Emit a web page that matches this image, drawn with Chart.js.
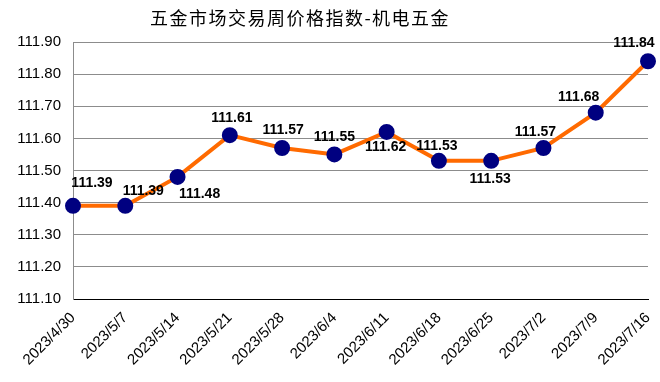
<!DOCTYPE html>
<html>
<head>
<meta charset="utf-8">
<script src="https://cdn.jsdelivr.net/npm/chart.js@4/dist/chart.umd.min.js"></script>
<style>
  html, body { margin: 0; padding: 0; background: #fff; }
  #wrap { width: 660px; height: 382px; position: relative; }
</style>
</head>
<body>
<div id="wrap"><canvas id="priceChart"></canvas></div>
<script>
// --- chart data ---
const weeks = ['2023/4/30', '2023/5/7', '2023/5/14', '2023/5/21', '2023/5/28', '2023/6/4',
               '2023/6/11', '2023/6/18', '2023/6/25', '2023/7/2', '2023/7/9', '2023/7/16'];
const indexValues = [111.39, 111.39, 111.48, 111.61, 111.57, 111.55, 111.62, 111.53, 111.53, 111.57, 111.68, 111.84];
const yTicks = [111.10, 111.20, 111.30, 111.40, 111.50, 111.60, 111.70, 111.80, 111.90];
const chartTitle = '五金市场交易周价格指数-机电五金';

// where each value label sits relative to its point (px)
const labelOffsets = [[19, -23], [18, -15], [22, 17], [2, -17], [1, -18], [0, -17],
                      [-1, 15], [-2, -15], [-1, 18], [-8, -16], [-17, -16], [-14, -18]];

// draws the numbers next to each point
const valueLabels = {
    id: 'valueLabels',
    afterDatasetsDraw(chart) {
        const ctx = chart.ctx;
        const meta = chart.getDatasetMeta(0);
        ctx.save();
        ctx.font = 'bold 14px "Liberation Sans", Arial, sans-serif';
        ctx.fillStyle = '#000';
        ctx.textAlign = 'center';
        ctx.textBaseline = 'middle';
        meta.data.forEach((pt, i) => {
            const off = labelOffsets[i] || [0, -16];
            ctx.fillText(indexValues[i].toFixed(2), pt.x + off[0], pt.y + off[1]);
        });
        ctx.restore();
    }
};

// title drawn centred over the chart
const titleText = {
    id: 'titleText',
    afterDraw(chart) {
        const ctx = chart.ctx;
        ctx.save();
        ctx.font = '18px "Noto Sans CJK SC", sans-serif';
        ctx.letterSpacing = '1.5px';
        ctx.fillStyle = '#000';
        ctx.textAlign = 'center';
        ctx.textBaseline = 'middle';
        ctx.fillText(chartTitle, 300, 18);
        ctx.restore();
    }
};

new Chart(document.getElementById('priceChart'), {
    type: 'line',
    data: {
        labels: weeks,
        datasets: [{
            label: chartTitle,
            data: indexValues,
            borderColor: '#ff6a00',
            borderWidth: 4,
            pointBackgroundColor: '#000080',
            pointBorderColor: '#000080',
            pointRadius: 6,
            pointHoverRadius: 6,
            tension: 0
        }]
    },
    options: {
        responsive: true,
        maintainAspectRatio: false,
        animation: false,
        layout: { padding: { top: 42, right: 12, left: 0, bottom: 0 } },
        plugins: {
            legend: { display: false },
            title: { display: false },
            tooltip: { enabled: false }
        },
        scales: {
            x: {
                offset: false,
                grid: { display: false, drawTicks: false },
                border: { color: '#000', width: 1 },
                ticks: {
                    color: '#000',
                    font: { family: '"Liberation Sans", Arial, sans-serif', size: 15 },
                    minRotation: 45,
                    maxRotation: 45,
                    padding: 10
                },
                afterFit: (scale) => {
                    scale.height = 83;
                    scale.paddingRight = 0;
                    scale.paddingLeft = 0;
                }
            },
            y: {
                min: 111.10,
                max: 111.90,
                afterBuildTicks: (scale) => { scale.ticks = yTicks.map(v => ({ value: v })); },
                grid: { color: '#8c8c8c', lineWidth: 1, drawTicks: false },
                border: { color: '#8c8c8c', width: 1 },
                ticks: {
                    color: '#000',
                    font: { family: '"Liberation Sans", Arial, sans-serif', size: 15 },
                    padding: 12,
                    callback: (v) => Number(v).toFixed(2)
                },
                afterFit: (scale) => { scale.width = 73; }
            }
        }
    },
    plugins: [valueLabels, titleText]
});
</script>
</body>
</html>
